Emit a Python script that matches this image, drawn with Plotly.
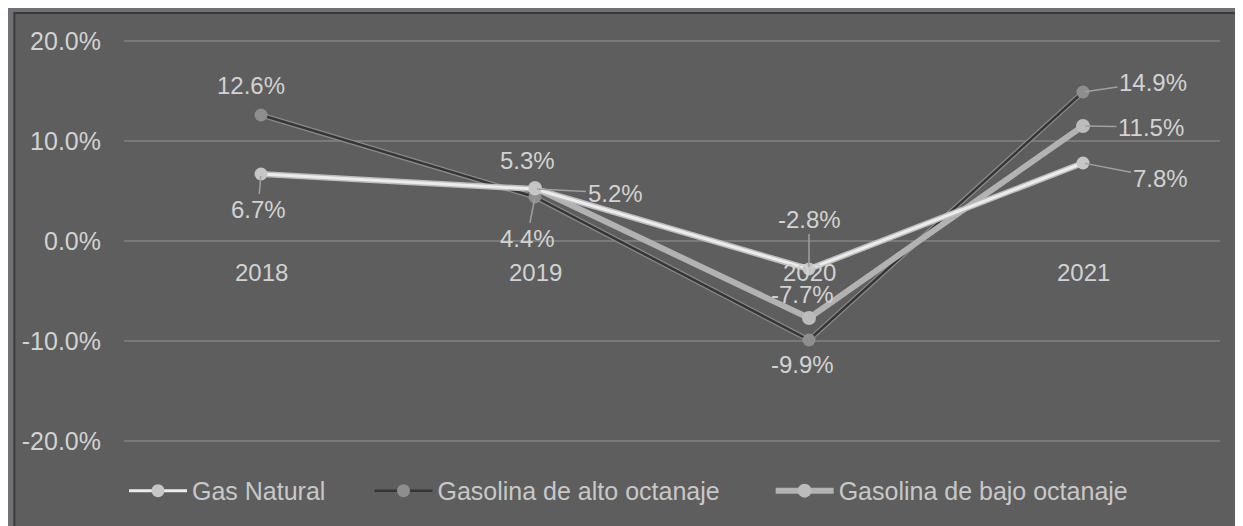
import plotly.graph_objects as go

# %%
years = ["2018", "2019", "2020", "2021"]
gas_natural = [6.7, 5.2, -2.8, 7.8]
alto_octanaje = [12.6, 4.4, -9.9, 14.9]
bajo_octanaje = [None, 5.3, -7.7, 11.5]

y_ticks = [-20, -10, 0, 10, 20]
y_tick_labels = ["-20.0%", "-10.0%", "0.0%", "10.0%", "20.0%"]

series_names = ["Gas Natural", "Gasolina de alto octanaje", "Gasolina de bajo octanaje"]

# label offsets in px (ax, ay) and whether a leader line is drawn
label_pos = {
    "Gas Natural": [(-3, 35, True), (80, 4, True), (0, -50, True), (77, 15, True)],
    "Gasolina de alto octanaje": [(-10, -30, False), (-8, 41, True), (-7, 24, False), (70, -10, True)],
    "Gasolina de bajo octanaje": [None, (-8, -28, False), (-7, -24, False), (68, 1, True)],
}

fig = go.Figure()

# %%
# alto octanaje: light outline under a dark core
fig.add_trace(go.Scatter(x=years, y=alto_octanaje, mode="lines", line=dict(color="#8a8a8a", width=5),
                         showlegend=False, hoverinfo="skip"))
fig.add_trace(go.Scatter(x=years, y=alto_octanaje, mode="lines+markers", name=series_names[1],
                         line=dict(color="#353535", width=2.5), legend="legend2",
                         marker=dict(size=13, color="#8e8e8e")))
fig.add_trace(go.Scatter(x=years, y=bajo_octanaje, mode="lines+markers", name=series_names[2],
                         line=dict(color="#b2b2b2", width=6), legend="legend3",
                         marker=dict(size=14, color="#bcbcbc")))
fig.add_trace(go.Scatter(x=years, y=gas_natural, mode="lines", line=dict(color="#bdbdbd", width=6),
                         showlegend=False, hoverinfo="skip"))
fig.add_trace(go.Scatter(x=years, y=gas_natural, mode="lines+markers", name=series_names[0],
                         line=dict(color="#ececec", width=3), legend="legend",
                         marker=dict(size=13, color="#c6c6c6")))

# %%
for name, vals in zip(series_names, [gas_natural, alto_octanaje, bajo_octanaje]):
    for i, (v, pos) in enumerate(zip(vals, label_pos[name])):
        if v is None:
            continue
        ax, ay, leader = pos
        fig.add_annotation(x=i, y=v, text=f"{v:.1f}%", showarrow=leader, arrowhead=0,
                           arrowwidth=1.5, arrowcolor="#a0a0a0", ax=ax, ay=ay, standoff=2,
                           xshift=0 if leader else ax, yshift=0 if leader else -ay,
                           font=dict(size=24, color="#d2d2d2"))

for i, yr in enumerate(years):
    fig.add_annotation(x=i, y=0, text=yr, showarrow=False, yanchor="top", yshift=-16,
                       font=dict(size=24, color="#d2d2d2"))

# background frame
fig.add_shape(type="rect", xref="paper", yref="paper", x0=-0.1, x1=1.05, y0=-0.25, y1=1.043,
              fillcolor="#5e5e5e", line=dict(color="#3a3a3a", width=2), layer="below")

leg = dict(orientation="h", xanchor="left", y=-0.095, yanchor="middle", bgcolor="rgba(0,0,0,0)",
           itemwidth=58, font=dict(size=25, color="#c8c8c8"))

fig.update_layout(
    width=1243, height=526,
    margin=dict(l=116, r=31, t=23, b=83),
    paper_bgcolor="#707176", plot_bgcolor="rgba(0,0,0,0)",
    font=dict(family="Liberation Sans, Arial, sans-serif", size=24, color="#d2d2d2"),
    xaxis=dict(type="category", range=[-0.5, 3.5], showticklabels=False, showgrid=False,
               zeroline=False, fixedrange=True, automargin=False),
    yaxis=dict(range=[-21, 21], tickvals=y_ticks, ticktext=y_tick_labels, automargin=False,
               gridcolor="#7a7a7a", gridwidth=1.5, zeroline=False, showline=False, ticklen=0,
               tickfont=dict(size=25, color="#d2d2d2"), ticklabelstandoff=22),
    legend=dict(leg, x=0.0),
    legend2=dict(leg, x=0.224),
    legend3=dict(leg, x=0.590),
)

fig.write_html("out.html")
